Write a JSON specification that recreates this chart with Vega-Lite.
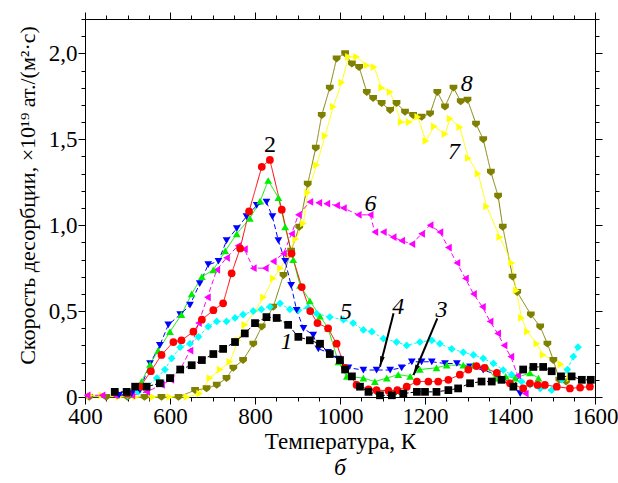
{
  "$schema": "https://vega.github.io/schema/vega-lite/v6.json",
  "width": 510,
  "height": 378,
  "autosize": {"type": "none"},
  "padding": {"left": 85, "top": 19, "right": 23, "bottom": 86},
  "background": "white",
  "config": {
    "view": {"stroke": null},
    "font": "Liberation Serif",
    "style": {
      "guide-label": {"font": "Liberation Serif", "fontSize": 22, "fill": "black"},
      "guide-title": {"font": "Liberation Serif", "fontSize": 22, "fontWeight": "normal", "fill": "black"},
      "group-title": {"font": "Liberation Serif"}
    },
    "axis": {
      "domainColor": "black", "tickColor": "black", "labelColor": "black", "titleColor": "black",
      "labelFont": "Liberation Serif", "titleFont": "Liberation Serif",
      "labelFontSize": 22, "titleFontSize": 22, "titleFontWeight": "normal",
      "grid": false, "labelFlush": false, "labelOverlap": false, "domainWidth": 1, "tickWidth": 1
    }
  },
  "title": {"text": "б", "orient": "bottom", "font": "Liberation Serif", "fontSize": 24, "fontStyle": "italic", "fontWeight": "normal", "color": "black", "offset": 3},
  "datasets": {
    "curves": [
      {"s":"8","T":410,"v":0.0},{"s":"8","T":450,"v":0.0},{"s":"8","T":500,"v":0.0},{"s":"8","T":540,"v":0.0},{"s":"8","T":580,"v":0.0},{"s":"8","T":620,"v":0.0},{"s":"8","T":659,"v":0.04},{"s":"8","T":686,"v":0.05},{"s":"8","T":710,"v":0.07},{"s":"8","T":733,"v":0.11},{"s":"8","T":749,"v":0.17},{"s":"8","T":772,"v":0.215},{"s":"8","T":796,"v":0.31},{"s":"8","T":816,"v":0.41},{"s":"8","T":843,"v":0.525},{"s":"8","T":867,"v":0.71},{"s":"8","T":885,"v":0.85},{"s":"8","T":904,"v":0.99},{"s":"8","T":924,"v":1.24},{"s":"8","T":943,"v":1.45},{"s":"8","T":957,"v":1.64},{"s":"8","T":976,"v":1.8},{"s":"8","T":992,"v":1.97},{"s":"8","T":1012,"v":2.0},{"s":"8","T":1028,"v":1.94},{"s":"8","T":1045,"v":1.92},{"s":"8","T":1063,"v":1.775},{"s":"8","T":1078,"v":1.74},{"s":"8","T":1098,"v":1.71},{"s":"8","T":1118,"v":1.67},{"s":"8","T":1133,"v":1.71},{"s":"8","T":1153,"v":1.66},{"s":"8","T":1172,"v":1.64},{"s":"8","T":1192,"v":1.63},{"s":"8","T":1212,"v":1.65},{"s":"8","T":1229,"v":1.775},{"s":"8","T":1247,"v":1.69},{"s":"8","T":1267,"v":1.8},{"s":"8","T":1284,"v":1.72},{"s":"8","T":1300,"v":1.73},{"s":"8","T":1320,"v":1.59},{"s":"8","T":1337,"v":1.5},{"s":"8","T":1355,"v":1.31},{"s":"8","T":1372,"v":1.17},{"s":"8","T":1383,"v":0.99},{"s":"8","T":1406,"v":0.7},{"s":"8","T":1417,"v":0.61},{"s":"8","T":1449,"v":0.48},{"s":"8","T":1471,"v":0.41},{"s":"8","T":1488,"v":0.31},{"s":"8","T":1502,"v":0.215},{"s":"8","T":1516,"v":0.1},{"s":"8","T":1532,"v":0.09},
      {"s":"7","T":412,"v":0.01},{"s":"7","T":440,"v":0.01},{"s":"7","T":480,"v":0.0},{"s":"7","T":520,"v":0.0},{"s":"7","T":560,"v":0.0},{"s":"7","T":600,"v":0.0},{"s":"7","T":640,"v":0.0},{"s":"7","T":670,"v":0.02},{"s":"7","T":694,"v":0.11},{"s":"7","T":718,"v":0.16},{"s":"7","T":741,"v":0.205},{"s":"7","T":760,"v":0.33},{"s":"7","T":776,"v":0.42},{"s":"7","T":800,"v":0.5},{"s":"7","T":820,"v":0.58},{"s":"7","T":843,"v":0.69},{"s":"7","T":860,"v":0.75},{"s":"7","T":878,"v":0.825},{"s":"7","T":896,"v":0.92},{"s":"7","T":914,"v":1.01},{"s":"7","T":924,"v":1.19},{"s":"7","T":945,"v":1.35},{"s":"7","T":965,"v":1.52},{"s":"7","T":984,"v":1.69},{"s":"7","T":1004,"v":1.83},{"s":"7","T":1020,"v":1.98},{"s":"7","T":1039,"v":1.98},{"s":"7","T":1063,"v":1.93},{"s":"7","T":1080,"v":1.92},{"s":"7","T":1098,"v":1.8},{"s":"7","T":1118,"v":1.775},{"s":"7","T":1144,"v":1.6},{"s":"7","T":1163,"v":1.6},{"s":"7","T":1183,"v":1.63},{"s":"7","T":1202,"v":1.49},{"s":"7","T":1222,"v":1.575},{"s":"7","T":1247,"v":1.53},{"s":"7","T":1259,"v":1.62},{"s":"7","T":1282,"v":1.57},{"s":"7","T":1302,"v":1.39},{"s":"7","T":1325,"v":1.3},{"s":"7","T":1345,"v":1.11},{"s":"7","T":1376,"v":0.93},{"s":"7","T":1404,"v":0.78},{"s":"7","T":1415,"v":0.62},{"s":"7","T":1427,"v":0.46},{"s":"7","T":1441,"v":0.38},{"s":"7","T":1463,"v":0.31},{"s":"7","T":1478,"v":0.245},{"s":"7","T":1520,"v":0.19},{"s":"7","T":1541,"v":0.11},
      {"s":"6","T":405,"v":0.01},{"s":"6","T":440,"v":0.01},{"s":"6","T":470,"v":0.01},{"s":"6","T":510,"v":0.01},{"s":"6","T":545,"v":0.03},{"s":"6","T":580,"v":0.07},{"s":"6","T":602,"v":0.1},{"s":"6","T":624,"v":0.16},{"s":"6","T":647,"v":0.27},{"s":"6","T":667,"v":0.43},{"s":"6","T":688,"v":0.58},{"s":"6","T":710,"v":0.74},{"s":"6","T":733,"v":0.81},{"s":"6","T":760,"v":0.88},{"s":"6","T":775,"v":0.86},{"s":"6","T":796,"v":0.75},{"s":"6","T":824,"v":0.75},{"s":"6","T":843,"v":0.79},{"s":"6","T":867,"v":0.835},{"s":"6","T":886,"v":0.95},{"s":"6","T":902,"v":1.06},{"s":"6","T":929,"v":1.135},{"s":"6","T":950,"v":1.13},{"s":"6","T":969,"v":1.125},{"s":"6","T":992,"v":1.115},{"s":"6","T":1008,"v":1.1},{"s":"6","T":1043,"v":1.06},{"s":"6","T":1071,"v":1.06},{"s":"6","T":1082,"v":0.96},{"s":"6","T":1102,"v":0.96},{"s":"6","T":1125,"v":0.93},{"s":"6","T":1145,"v":0.91},{"s":"6","T":1169,"v":0.89},{"s":"6","T":1192,"v":0.95},{"s":"6","T":1212,"v":1.0},{"s":"6","T":1235,"v":0.96},{"s":"6","T":1255,"v":0.87},{"s":"6","T":1275,"v":0.78},{"s":"6","T":1295,"v":0.69},{"s":"6","T":1314,"v":0.6},{"s":"6","T":1335,"v":0.525},{"s":"6","T":1353,"v":0.44},{"s":"6","T":1371,"v":0.37},{"s":"6","T":1386,"v":0.3},{"s":"6","T":1402,"v":0.235},{"s":"6","T":1418,"v":0.125},{"s":"6","T":1436,"v":0.02},
      {"s":"5","T":500,"v":0.01},{"s":"5","T":525,"v":0.03},{"s":"5","T":545,"v":0.06},{"s":"5","T":569,"v":0.11},{"s":"5","T":588,"v":0.16},{"s":"5","T":604,"v":0.225},{"s":"5","T":624,"v":0.29},{"s":"5","T":647,"v":0.31},{"s":"5","T":667,"v":0.35},{"s":"5","T":690,"v":0.41},{"s":"5","T":710,"v":0.44},{"s":"5","T":733,"v":0.44},{"s":"5","T":753,"v":0.46},{"s":"5","T":772,"v":0.48},{"s":"5","T":796,"v":0.5},{"s":"5","T":815,"v":0.51},{"s":"5","T":835,"v":0.525},{"s":"5","T":859,"v":0.545},{"s":"5","T":882,"v":0.51},{"s":"5","T":902,"v":0.505},{"s":"5","T":925,"v":0.52},{"s":"5","T":945,"v":0.485},{"s":"5","T":976,"v":0.465},{"s":"5","T":1008,"v":0.45},{"s":"5","T":1031,"v":0.43},{"s":"5","T":1055,"v":0.39},{"s":"5","T":1075,"v":0.38},{"s":"5","T":1102,"v":0.34},{"s":"5","T":1133,"v":0.32},{"s":"5","T":1157,"v":0.3},{"s":"5","T":1188,"v":0.32},{"s":"5","T":1216,"v":0.33},{"s":"5","T":1235,"v":0.31},{"s":"5","T":1263,"v":0.28},{"s":"5","T":1290,"v":0.26},{"s":"5","T":1314,"v":0.245},{"s":"5","T":1337,"v":0.225},{"s":"5","T":1361,"v":0.195},{"s":"5","T":1384,"v":0.157},{"s":"5","T":1404,"v":0.13},{"s":"5","T":1427,"v":0.09},{"s":"5","T":1447,"v":0.07},{"s":"5","T":1471,"v":0.05},{"s":"5","T":1498,"v":0.04},{"s":"5","T":1522,"v":0.1},{"s":"5","T":1535,"v":0.16},{"s":"5","T":1549,"v":0.235},{"s":"5","T":1560,"v":0.29},
      {"s":"4","T":480,"v":0.01},{"s":"4","T":510,"v":0.02},{"s":"4","T":529,"v":0.04},{"s":"4","T":553,"v":0.195},{"s":"4","T":576,"v":0.3},{"s":"4","T":596,"v":0.42},{"s":"4","T":624,"v":0.48},{"s":"4","T":647,"v":0.535},{"s":"4","T":670,"v":0.66},{"s":"4","T":690,"v":0.77},{"s":"4","T":714,"v":0.79},{"s":"4","T":733,"v":0.91},{"s":"4","T":757,"v":0.98},{"s":"4","T":780,"v":1.05},{"s":"4","T":804,"v":1.115},{"s":"4","T":827,"v":1.135},{"s":"4","T":841,"v":1.05},{"s":"4","T":855,"v":0.91},{"s":"4","T":871,"v":0.79},{"s":"4","T":885,"v":0.65},{"s":"4","T":898,"v":0.505},{"s":"4","T":914,"v":0.4},{"s":"4","T":937,"v":0.36},{"s":"4","T":949,"v":0.28},{"s":"4","T":972,"v":0.26},{"s":"4","T":996,"v":0.22},{"s":"4","T":1020,"v":0.17},{"s":"4","T":1055,"v":0.157},{"s":"4","T":1086,"v":0.157},{"s":"4","T":1118,"v":0.157},{"s":"4","T":1145,"v":0.17},{"s":"4","T":1169,"v":0.205},{"s":"4","T":1192,"v":0.205},{"s":"4","T":1216,"v":0.205},{"s":"4","T":1247,"v":0.195},{"s":"4","T":1275,"v":0.195},{"s":"4","T":1306,"v":0.175},{"s":"4","T":1337,"v":0.157},{"s":"4","T":1369,"v":0.13},{"s":"4","T":1384,"v":0.1},{"s":"4","T":1408,"v":0.06},{"s":"4","T":1424,"v":0.02},
      {"s":"3","T":500,"v":0.02},{"s":"3","T":533,"v":0.09},{"s":"3","T":553,"v":0.19},{"s":"3","T":572,"v":0.27},{"s":"3","T":600,"v":0.38},{"s":"3","T":627,"v":0.48},{"s":"3","T":651,"v":0.6},{"s":"3","T":675,"v":0.7},{"s":"3","T":702,"v":0.74},{"s":"3","T":730,"v":0.85},{"s":"3","T":757,"v":0.95},{"s":"3","T":788,"v":1.04},{"s":"3","T":812,"v":1.14},{"s":"3","T":831,"v":1.26},{"s":"3","T":855,"v":1.16},{"s":"3","T":871,"v":0.99},{"s":"3","T":890,"v":0.8},{"s":"3","T":906,"v":0.65},{"s":"3","T":929,"v":0.56},{"s":"3","T":953,"v":0.47},{"s":"3","T":972,"v":0.4},{"s":"3","T":996,"v":0.205},{"s":"3","T":1016,"v":0.12},{"s":"3","T":1055,"v":0.11},{"s":"3","T":1082,"v":0.09},{"s":"3","T":1110,"v":0.11},{"s":"3","T":1137,"v":0.13},{"s":"3","T":1165,"v":0.12},{"s":"3","T":1188,"v":0.16},{"s":"3","T":1227,"v":0.17},{"s":"3","T":1251,"v":0.185},{"s":"3","T":1290,"v":0.185},{"s":"3","T":1314,"v":0.185},{"s":"3","T":1345,"v":0.175},{"s":"3","T":1365,"v":0.11},{"s":"3","T":1390,"v":0.12},{"s":"3","T":1412,"v":0.11},{"s":"3","T":1447,"v":0.14},{"s":"3","T":1467,"v":0.11},
      {"s":"2","T":500,"v":0.02},{"s":"2","T":530,"v":0.06},{"s":"2","T":555,"v":0.15},{"s":"2","T":580,"v":0.245},{"s":"2","T":608,"v":0.32},{"s":"2","T":627,"v":0.33},{"s":"2","T":655,"v":0.38},{"s":"2","T":675,"v":0.45},{"s":"2","T":702,"v":0.505},{"s":"2","T":725,"v":0.545},{"s":"2","T":745,"v":0.72},{"s":"2","T":765,"v":0.865},{"s":"2","T":786,"v":1.08},{"s":"2","T":816,"v":1.34},{"s":"2","T":835,"v":1.38},{"s":"2","T":863,"v":1.09},{"s":"2","T":886,"v":0.835},{"s":"2","T":910,"v":0.64},{"s":"2","T":930,"v":0.5},{"s":"2","T":947,"v":0.43},{"s":"2","T":972,"v":0.4},{"s":"2","T":992,"v":0.31},{"s":"2","T":1012,"v":0.17},{"s":"2","T":1039,"v":0.07},{"s":"2","T":1067,"v":0.045},{"s":"2","T":1086,"v":0.04},{"s":"2","T":1114,"v":0.037},{"s":"2","T":1135,"v":0.04},{"s":"2","T":1157,"v":0.06},{"s":"2","T":1181,"v":0.09},{"s":"2","T":1208,"v":0.09},{"s":"2","T":1231,"v":0.09},{"s":"2","T":1255,"v":0.1},{"s":"2","T":1282,"v":0.13},{"s":"2","T":1302,"v":0.16},{"s":"2","T":1321,"v":0.18},{"s":"2","T":1340,"v":0.17},{"s":"2","T":1369,"v":0.14},{"s":"2","T":1400,"v":0.08},{"s":"2","T":1431,"v":0.05},{"s":"2","T":1447,"v":0.08},{"s":"2","T":1465,"v":0.07},{"s":"2","T":1482,"v":0.07},{"s":"2","T":1510,"v":0.06},{"s":"2","T":1541,"v":0.05},{"s":"2","T":1565,"v":0.055},{"s":"2","T":1588,"v":0.06},
      {"s":"1","T":470,"v":0.03},{"s":"1","T":498,"v":0.03},{"s":"1","T":518,"v":0.06},{"s":"1","T":545,"v":0.06},{"s":"1","T":576,"v":0.08},{"s":"1","T":600,"v":0.11},{"s":"1","T":624,"v":0.16},{"s":"1","T":651,"v":0.185},{"s":"1","T":675,"v":0.215},{"s":"1","T":702,"v":0.25},{"s":"1","T":725,"v":0.28},{"s":"1","T":753,"v":0.32},{"s":"1","T":776,"v":0.37},{"s":"1","T":800,"v":0.43},{"s":"1","T":827,"v":0.465},{"s":"1","T":851,"v":0.46},{"s":"1","T":878,"v":0.42},{"s":"1","T":902,"v":0.35},{"s":"1","T":929,"v":0.33},{"s":"1","T":953,"v":0.31},{"s":"1","T":976,"v":0.25},{"s":"1","T":1000,"v":0.215},{"s":"1","T":1012,"v":0.16},{"s":"1","T":1028,"v":0.12},{"s":"1","T":1047,"v":0.06},{"s":"1","T":1067,"v":0.03},{"s":"1","T":1094,"v":0.01},{"s":"1","T":1122,"v":0.01},{"s":"1","T":1149,"v":0.02},{"s":"1","T":1181,"v":0.03},{"s":"1","T":1200,"v":0.03},{"s":"1","T":1227,"v":0.03},{"s":"1","T":1255,"v":0.04},{"s":"1","T":1278,"v":0.05},{"s":"1","T":1306,"v":0.08},{"s":"1","T":1333,"v":0.09},{"s":"1","T":1357,"v":0.09},{"s":"1","T":1380,"v":0.1},{"s":"1","T":1408,"v":0.06},{"s":"1","T":1431,"v":0.16},{"s":"1","T":1455,"v":0.175},{"s":"1","T":1478,"v":0.175},{"s":"1","T":1498,"v":0.15},{"s":"1","T":1520,"v":0.12},{"s":"1","T":1545,"v":0.12},{"s":"1","T":1569,"v":0.1},{"s":"1","T":1590,"v":0.1}
    ],
    "labels": [
      {"lab":"1","T":874,"v":0.32},{"lab":"3","T":1239,"v":0.506},{"lab":"4","T":1137,"v":0.525},{"lab":"5","T":1014,"v":0.496},{"lab":"6","T":1072,"v":1.126},{"lab":"7","T":1268,"v":1.426},{"lab":"8","T":1298,"v":1.82}
    ],
    "labels2": [{"lab":"2","T":835,"v":1.465}],
    "arrows": [
      {"id":"4","T1":1126,"v1":0.487,"T2":1094,"v2":0.176},
      {"id":"3","T1":1229,"v1":0.458,"T2":1173,"v2":0.128}
    ]
  },
  "layer": [
    {
      "data": {"name": "curves"},
      "mark": {"type": "line", "strokeWidth": 1},
      "encoding": {
        "x": {"field": "T", "type": "quantitative", "scale": {"domain": [400, 1600], "nice": false, "zero": false},
          "axis": {"orient": "bottom", "values": [400,450,500,550,600,650,700,750,800,850,900,950,1000,1050,1100,1150,1200,1250,1300,1350,1400,1450,1500,1550,1600],
            "tickSize": {"condition": {"test": "datum.value % 200 === 0", "value": 7}, "value": 4},
            "labelExpr": "datum.value % 200 === 0 ? format(datum.value, 'd') : ''",
            "labelFont": "Liberation Serif", "labelFontSize": 23, "titleFont": "Liberation Serif", "titleFontSize": 23,
            "labelPadding": 1, "title": "Температура, К", "titleY": 44, "titleBaseline": "middle"}},
        "y": {"field": "v", "type": "quantitative", "scale": {"domain": [0, 2.2], "nice": false, "zero": true},
          "axis": {"orient": "left", "values": [0,0.1,0.2,0.3,0.4,0.5,0.6,0.7,0.8,0.9,1,1.1,1.2,1.3,1.4,1.5,1.6,1.7,1.8,1.9,2,2.1,2.2],
            "tickSize": {"condition": {"test": "abs(datum.value*2 - round(datum.value*2)) < 0.001", "value": 7}, "value": 4},
            "labelExpr": "abs(datum.value*2 - round(datum.value*2)) < 0.001 ? (datum.value == 0 ? '0' : replace(format(datum.value, '.1f'), '.', ',')) : ''",
            "labelFont": "Liberation Serif", "labelFontSize": 23, "titleFont": "Liberation Serif", "titleFontSize": 22,
            "labelPadding": 1, "title": "Скорость десорбции, ×10¹⁹ ат./(м²·с)", "titleX": -58, "titleY": 176, "titleBaseline": "middle"}},
        "color": {"field": "s", "type": "nominal", "legend": null,
          "scale": {"domain": ["1","2","3","4","5","6","7","8"], "range": ["#000000","#ff0000","#00ee00","#0000ff","#00ffff","#ff00ff","#ffff00","#808000"]}},
        "strokeDash": {"field": "s", "type": "nominal", "legend": null,
          "scale": {"domain": ["1","2","3","4","5","6","7","8"], "range": [[4,2],[1,0],[1,0],[5,3],[3,2],[5,3],[1,0],[1,0]]}}
      }
    },
    {
      "data": {"name": "curves"},
      "mark": {"type": "point", "filled": true, "size": 60, "opacity": 1, "strokeWidth": 0},
      "encoding": {
        "x": {"field": "T", "type": "quantitative",
          "axis": {"orient": "top", "values": [400,450,500,550,600,650,700,750,800,850,900,950,1000,1050,1100,1150,1200,1250,1300,1350,1400,1450,1500,1550,1600],
            "tickSize": {"condition": {"test": "datum.value % 200 === 0", "value": 7}, "value": 4},
            "labels": false, "title": null}},
        "y": {"field": "v", "type": "quantitative",
          "axis": {"orient": "right", "values": [0,0.1,0.2,0.3,0.4,0.5,0.6,0.7,0.8,0.9,1,1.1,1.2,1.3,1.4,1.5,1.6,1.7,1.8,1.9,2,2.1,2.2],
            "tickSize": {"condition": {"test": "abs(datum.value*2 - round(datum.value*2)) < 0.001", "value": 7}, "value": 4},
            "labels": false, "title": null}},
        "color": {"field": "s", "type": "nominal", "legend": null,
          "scale": {"domain": ["1","2","3","4","5","6","7","8"], "range": ["#000000","#ff0000","#00ee00","#0000ff","#00ffff","#ff00ff","#ffff00","#808000"]}},
        "shape": {"field": "s", "type": "nominal", "legend": null,
          "scale": {"domain": ["1","2","3","4","5","6","7","8"], "range": ["square","circle","triangle-up","triangle-down","diamond","triangle-left","triangle-right","M-1,-0.8L1,-0.8L1,0.2L0,1L-1,0.2Z"]}}
      }
    },
    {
      "data": {"name": "arrows"},
      "mark": {"type": "rule", "color": "black", "strokeWidth": 2},
      "encoding": {
        "x": {"field": "T1", "type": "quantitative", "axis": null},
        "y": {"field": "v1", "type": "quantitative", "axis": null},
        "x2": {"field": "T2"},
        "y2": {"field": "v2"}
      }
    },
    {
      "data": {"name": "arrows"},
      "mark": {"type": "point", "filled": true, "color": "black", "size": 110, "opacity": 1, "strokeWidth": 0, "shape": "M0,0L0.45,2L-0.45,2Z"},
      "encoding": {
        "x": {"field": "T2", "type": "quantitative", "axis": null},
        "y": {"field": "v2", "type": "quantitative", "axis": null},
        "angle": {"field": "id", "type": "nominal", "scale": {"domain": ["3","4"], "range": [203, 194]}, "legend": null}
      }
    },
    {
      "data": {"name": "labels"},
      "mark": {"type": "text", "font": "Liberation Serif", "fontSize": 24, "fontStyle": "italic", "color": "black", "align": "center", "baseline": "middle"},
      "encoding": {
        "x": {"field": "T", "type": "quantitative", "axis": null},
        "y": {"field": "v", "type": "quantitative", "axis": null},
        "text": {"field": "lab"}
      }
    },
    {
      "data": {"name": "labels2"},
      "mark": {"type": "text", "font": "Liberation Serif", "fontSize": 24, "color": "black", "align": "center", "baseline": "middle"},
      "encoding": {
        "x": {"field": "T", "type": "quantitative", "axis": null},
        "y": {"field": "v", "type": "quantitative", "axis": null},
        "text": {"field": "lab"}
      }
    }
  ],
  "resolve": {"axis": {"x": "independent", "y": "independent"}}
}
